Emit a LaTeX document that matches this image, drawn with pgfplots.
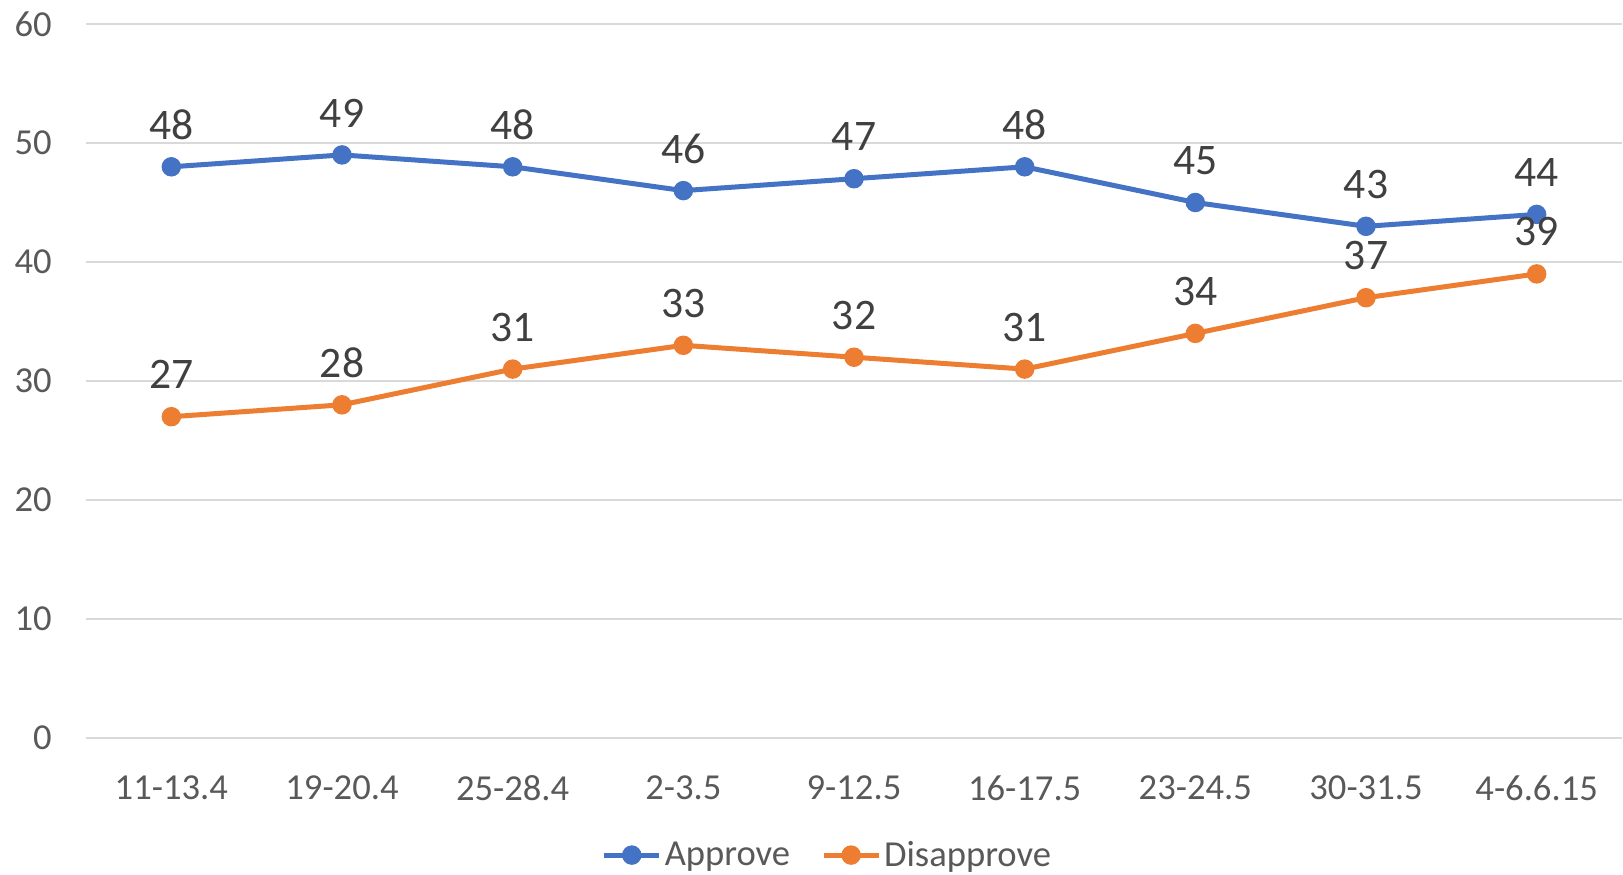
\documentclass[border=0pt]{standalone}
\usepackage{pgfplots}
\pgfplotsset{compat=1.18}
\usepackage{fontspec}
\setmainfont{Carlito}
\definecolor{cblue}{HTML}{4472C4}
\definecolor{corange}{HTML}{ED7D31}
\definecolor{tickgray}{HTML}{595959}
\definecolor{labgray}{HTML}{404040}
\definecolor{gridgray}{HTML}{D9D9D9}
\begin{document}
\begin{tikzpicture}
\path[use as bounding box] (0,0) rectangle (811.5pt,437pt);
\begin{axis}[
  at={(43pt,68pt)}, anchor=south west,
  scale only axis, width=768pt, height=357pt,
  xmin=-0.5, xmax=8.5, ymin=0, ymax=60,
  xtick={0,...,8},
  xticklabels={11-13.4,19-20.4,25-28.4,2-3.5,9-12.5,16-17.5,23-24.5,30-31.5,4-6.6.15},
  ytick={0,10,...,60},
  ymajorgrids, grid style={gridgray, line width=0.8pt},
  axis line style={draw=none}, major tick length=0pt, tick style={draw=none},
  /pgf/number format/assume math mode=true,
  ticklabel style={font=\fontsize{18.3pt}{21pt}\selectfont, text=tickgray},
  yticklabel style={inner sep=0pt, anchor=east, xshift=-17pt},
  xticklabel style={inner sep=0pt, anchor=north, yshift=-18.5pt},
  nodes near coords,
  nodes near coords style={anchor=center, yshift=21pt, inner sep=0pt, font=\fontsize{21.8pt}{24pt}\selectfont, text=labgray},
  legend columns=2,
  legend style={draw=none, at={(0.483,-0.164)}, anchor=center, font=\fontsize{18.3pt}{21pt}\selectfont, text=tickgray, /tikz/every even column/.append style={column sep=14pt}, inner sep=0pt, nodes={inner sep=1.5pt}},
  legend image code/.code={\draw[mark repeat=2,mark phase=2] plot coordinates {(0pt,0pt) (13.75pt,0pt) (27.5pt,0pt)};},
  every axis plot/.append style={line width=2.5pt, mark=*, mark size=3.6pt},
]
\addplot[cblue, mark options={fill=cblue, draw=cblue}] coordinates {(0,48) (1,49) (2,48) (3,46) (4,47) (5,48) (6,45) (7,43) (8,44)};
\addlegendentry{Approve}
\addplot[corange, mark options={fill=corange, draw=corange}] coordinates {(0,27) (1,28) (2,31) (3,33) (4,32) (5,31) (6,34) (7,37) (8,39)};
\addlegendentry{Disapprove}
\end{axis}
\end{tikzpicture}
\end{document}
